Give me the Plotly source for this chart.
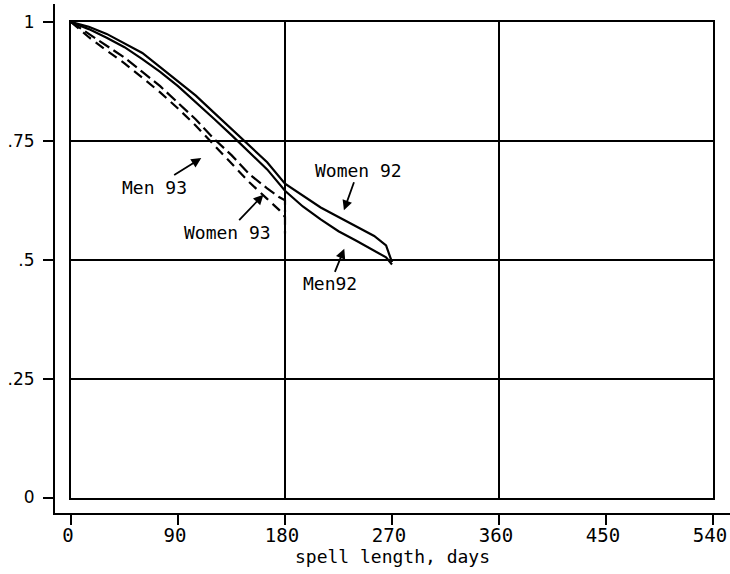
import plotly.graph_objects as go

# ---- data ----
days_92 = [0, 15, 30, 45, 60, 75, 90, 105, 120, 135, 150, 165, 180, 195, 210, 225, 240, 255, 265, 270]
women_92 = [1.0, 0.99, 0.975, 0.955, 0.935, 0.905, 0.875, 0.845, 0.81, 0.775, 0.74, 0.705, 0.66, 0.635, 0.61, 0.59, 0.57, 0.55, 0.53, 0.495]
men_92 = [1.0, 0.985, 0.967, 0.947, 0.922, 0.895, 0.865, 0.832, 0.797, 0.762, 0.727, 0.69, 0.645, 0.612, 0.585, 0.56, 0.54, 0.52, 0.505, 0.49]

days_93 = [0, 15, 30, 45, 60, 75, 90, 105, 120, 135, 150, 165, 175, 180, 180]
men_93 = [1.0, 0.975, 0.95, 0.925, 0.895, 0.865, 0.83, 0.795, 0.755, 0.72, 0.68, 0.65, 0.632, 0.625, 0.6]
women_93 = [1.0, 0.968, 0.94, 0.913, 0.883, 0.852, 0.818, 0.782, 0.742, 0.703, 0.663, 0.628, 0.605, 0.59, 0.555]

x_ticks = [0, 90, 180, 270, 360, 450, 540]
y_ticks = [0, 0.25, 0.5, 0.75, 1]
y_ticktext = ["0", ".25", ".5", ".75", "1"]
x_grid = [180, 360]
y_grid = [0.25, 0.5, 0.75]

labels = [
    # text, day, value, ax, ay
    ("Men 93", 111, 0.716, -48, 30),
    ("Women 93", 163, 0.640, -37, 39),
    ("Women 92", 229, 0.600, 15, -42),
    ("Men92", 230.5, 0.527, -15, 37),
]

# ---- layout geometry ----
W, H = 730, 574
ml, mr, mt, mb = 55, 0, 4, 61
pw, ph = W - ml - mr, H - mt - mb
box_l, box_r, box_t, box_b = 71, 713, 22, 497.5
xpx = (box_r - box_l) / 540.0
ypx = (box_b - box_t) / 1.0
dx = [(box_l - ml) / pw, (box_r - ml) / pw]
dy = [(H - mb - box_b) / ph, (H - mb - box_t) / ph]
x2range = [-(box_l - ml) / xpx, 540 + (W - mr - box_r) / xpx]
y2range = [-((H - mb) - box_b) / ypx, 1 + (box_t - mt) / ypx]

fig = go.Figure()
line_w = 2.2
fig.add_trace(go.Scatter(x=days_92, y=women_92, mode="lines", line=dict(color="black", width=line_w), name="Women 92"))
fig.add_trace(go.Scatter(x=days_92, y=men_92, mode="lines", line=dict(color="black", width=line_w), name="Men92"))
fig.add_trace(go.Scatter(x=days_93, y=men_93, mode="lines", line=dict(color="black", width=line_w, dash="12px,5px"), name="Men 93"))
fig.add_trace(go.Scatter(x=days_93, y=women_93, mode="lines", line=dict(color="black", width=line_w, dash="10px,6px"), name="Women 93"))
# carrier for the offset (display) axes
fig.add_trace(go.Scatter(x=[None], y=[None], xaxis="x2", yaxis="y2", mode="lines", hoverinfo="skip", showlegend=False))

for text, d, v, ax, ay in labels:
    fig.add_annotation(x=d, y=v, xref="x", yref="y", text=text, showarrow=True,
                       ax=ax, ay=ay, arrowhead=2, arrowsize=1.1, arrowwidth=1.8, arrowcolor="black",
                       font=dict(family="DejaVu Sans Mono", size=18, color="black"), standoff=2)

fig.update_layout(
    width=W, height=H,
    margin=dict(l=ml, r=mr, t=mt, b=mb),
    paper_bgcolor="white", plot_bgcolor="rgba(0,0,0,0)",
    showlegend=False,
    xaxis=dict(domain=dx, range=[0, 540], anchor="y", tickvals=x_grid, showticklabels=False, ticks="",
               showgrid=True, gridcolor="black", gridwidth=2, showline=True, linecolor="black", linewidth=2,
               mirror=True, zeroline=False, fixedrange=True),
    yaxis=dict(domain=dy, range=[0, 1], anchor="x", tickvals=y_grid, showticklabels=False, ticks="",
               showgrid=True, gridcolor="black", gridwidth=2, showline=True, linecolor="black", linewidth=2,
               mirror=True, zeroline=False, fixedrange=True),
    xaxis2=dict(domain=[0, 1], anchor="y2", range=x2range, tickvals=x_ticks, ticks="outside", ticklen=10,
                tickwidth=2, tickcolor="black", showline=True, linecolor="black", linewidth=2, showgrid=False,
                zeroline=False, ticklabeloverflow="allow", ticklabelshift=-3, ticklabelstandoff=-6,
                tickfont=dict(family="DejaVu Sans Mono", size=19, color="black"),
                title=dict(text="spell length, days", font=dict(family="DejaVu Sans Mono", size=18, color="black"), standoff=0)),
    yaxis2=dict(domain=[0, 1], anchor="x2", range=y2range, tickvals=y_ticks, ticktext=y_ticktext, ticks="outside",
                ticklen=10, tickwidth=2, tickcolor="black", showline=True, linecolor="black", linewidth=2,
                showgrid=False, zeroline=False, ticklabelstandoff=5,
                tickfont=dict(family="DejaVu Sans", size=17, color="black")),
)

fig.write_html("out.html", post_script="document.body.style.margin='0px';",
               config={"displayModeBar": False})
